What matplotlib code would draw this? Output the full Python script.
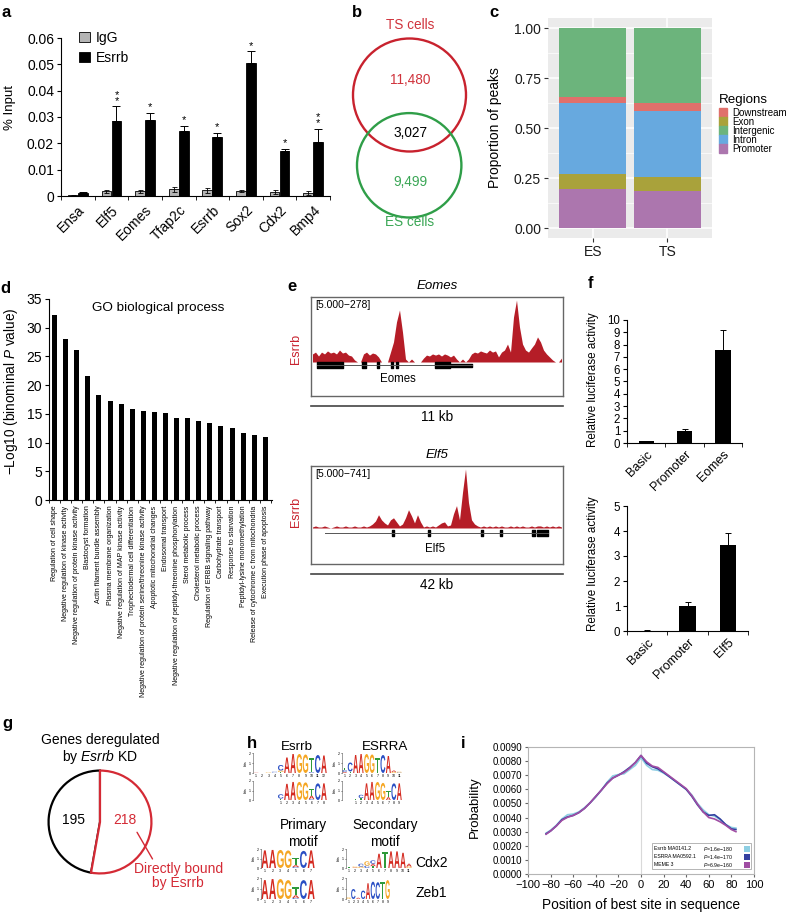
import numpy as np
import matplotlib
matplotlib.use("Agg")
import matplotlib.pyplot as plt
from matplotlib.patches import Circle, PathPatch, Rectangle
from matplotlib.lines import Line2D
from matplotlib.textpath import TextPath
from matplotlib.font_manager import FontProperties
from matplotlib.transforms import Affine2D

plt.rcParams["font.family"] = ["Liberation Sans", "DejaVu Sans"]
plt.rcParams["mathtext.fontset"] = "custom"
plt.rcParams["mathtext.rm"] = "Liberation Sans"
plt.rcParams["mathtext.it"] = "Liberation Sans:italic"
plt.rcParams["axes.linewidth"] = 0.8

# ---------------- data ----------------
# a: ChIP-qPCR
chip_genes = ["Ensa", "Elf5", "Eomes", "Tfap2c", "Esrrb", "Sox2", "Cdx2", "Bmp4"]
igg = [0.0003, 0.0018, 0.0018, 0.0025, 0.0022, 0.0020, 0.0015, 0.0012]
igg_err = [0.0002, 0.0006, 0.0005, 0.0009, 0.0009, 0.0004, 0.0006, 0.0008]
esrrb = [0.0012, 0.0285, 0.0290, 0.0247, 0.0225, 0.0505, 0.0172, 0.0205]
esrrb_err = [0.0003, 0.0055, 0.0027, 0.0020, 0.0015, 0.0045, 0.0008, 0.0050]
chip_stars = ["", "**", "*", "*", "*", "*", "*", "**"]

# b: peak overlap (TS only, both, ES only)
venn_sets = ["TS cells", "ES cells"]
venn_counts = [11480, 3027, 9499]

# c: genomic distribution of peaks
region_samples = ["ES", "TS"]
region_names = ["Downstream", "Exon", "Intergenic", "Intron", "Promoter"]
frac_promoter = [0.195, 0.184]
frac_exon = [0.076, 0.072]
frac_intron = [0.353, 0.331]
frac_downstream = [0.031, 0.037]
frac_intergenic = [0.345, 0.376]

# d: GO terms
go_terms = [
    "Regulation of cell shape",
    "Negative regulation of kinase activity",
    "Negative regulation of protein kinase activity",
    "Blastocyst formation",
    "Actin filament bundle assembly",
    "Plasma membrane organization",
    "Negative regulation of MAP kinase activity",
    "Trophectodermal cell differentiation",
    "Negative regulation of protein serine/threonine kinase activity",
    "Apoptotic mitochondrial changes",
    "Endosomal transport",
    "Negative regulation of peptidyl-threonine phosphorylation",
    "Sterol metabolic process",
    "Cholesterol metabolic process",
    "Regulation of ERBB signaling pathway",
    "Carbohydrate transport",
    "Response to starvation",
    "Peptidyl-lysine monomethylation",
    "Release of cytochrome c from mitochondria",
    "Execution phase of apoptosis",
]
go_scores = [32.3, 28.1, 26.1, 21.6, 18.2, 17.2, 16.7, 15.8, 15.5, 15.4,
             15.2, 14.2, 14.2, 13.7, 13.4, 12.9, 12.6, 11.6, 11.4, 10.9]

# e: Esrrb ChIP-seq coverage (reads per bin)
eomes_cov = [35, 43, 26, 43, 35, 48, 39, 43, 35, 52,
             39, 43, 30, 26, 9, 0, 0, 35, 43, 30,
             39, 35, 22, 0, 0, 0, 43, 87, 174, 226,
             130, 13, 0, 13, 0, 0, 0, 17, 30, 26,
             35, 30, 35, 26, 35, 30, 22, 30, 13, 0,
             13, 0, 13, 35, 43, 39, 48, 43, 39, 52,
             43, 48, 22, 43, 52, 78, 43, 195, 269, 152,
             78, 52, 43, 61, 78, 109, 87, 52, 35, 22,
             9, 0, 0, 17]
elf5_cov = [12, 25, 12, 12, 25, 12, 0, 12, 25, 12,
            12, 25, 12, 12, 25, 12, 12, 25, 12, 25,
            49, 86, 161, 99, 62, 37, 99, 124, 74, 25,
            49, 124, 222, 148, 62, 161, 74, 12, 25, 12,
            25, 12, 37, 62, 74, 25, 37, 173, 272, 99,
            432, 717, 309, 99, 49, 25, 12, 25, 12, 25,
            12, 25, 12, 25, 12, 12, 25, 12, 25, 12,
            25, 12, 12, 25, 12, 25, 25, 12, 25, 12,
            25, 12, 25, 12]
eomes_span = [2, 53.7]
eomes_cds = [(2, 8.7), (17, 1.2), (22, 0.8), (26.7, 0.7), (28.2, 0.7), (41.3, 5.0)]
eomes_utr = [(46.3, 7.4)]
elf5_span = [4.7, 79]
elf5_cds = [(27, 0.5), (39, 0.5), (56.7, 0.6), (63, 0.5), (73.7, 1.0), (75.3, 3.7)]
elf5_utr = []

# f: luciferase
luc_eomes_labels = ["Basic", "Promoter", "Eomes"]
luc_eomes = [0.15, 1.0, 7.6]
luc_eomes_err = [0.05, 0.15, 1.6]
luc_elf5_labels = ["Basic", "Promoter", "Elf5"]
luc_elf5 = [0.02, 1.0, 3.45]
luc_elf5_err = [0.01, 0.18, 0.47]

# g: KD genes (directly bound, not bound)
kd_counts = [218, 195]

# h: motif logos, columns of (letter, bits)
esrrb_logo_a = [[("A", 0.03)], [("T", 0.04)], [("G", 0.05)], [("C", 0.08), ("T", 0.05)],
                [("C", 0.55), ("G", 0.15), ("T", 0.1)], [("A", 1.55)], [("A", 1.9)],
                [("G", 1.9)], [("G", 1.85)], [("T", 1.45), ("C", 0.1)], [("C", 1.8)], [("A", 1.75)]]
esrrb_logo_b = [[("C", 0.45), ("T", 0.15)], [("A", 1.7)], [("A", 1.9)], [("G", 1.9)],
                [("G", 1.85)], [("T", 0.7), ("A", 0.35), ("C", 0.1)], [("C", 1.75)], [("A", 1.75)]]
esrra_logo_a = [[("T", 0.25), ("C", 0.2), ("A", 0.1)], [("C", 0.9), ("T", 0.15)], [("A", 1.8)],
                [("A", 1.9)], [("G", 1.9)], [("G", 1.85)], [("T", 1.5)], [("C", 1.8)],
                [("A", 1.7)], [("A", 0.15), ("G", 0.1)], [("G", 0.08), ("C", 0.05)]]
esrra_logo_b = [[("T", 0.1)], [("C", 0.35), ("T", 0.2)], [("A", 1.75)], [("A", 1.9)], [("G", 1.9)],
                [("G", 1.8)], [("T", 0.7), ("A", 0.3)], [("C", 1.75)], [("A", 1.75)]]
primary_logo_a = [[("A", 1.85)], [("A", 1.9)], [("G", 1.9)], [("G", 1.85)],
                  [("T", 0.8), ("A", 0.2), ("C", 0.1)], [("C", 1.8)], [("A", 1.85)]]
primary_logo_b = [[("A", 1.8)], [("A", 1.9)], [("G", 1.9)], [("G", 1.8)],
                  [("T", 0.75), ("A", 0.25), ("C", 0.1)], [("C", 1.8)], [("A", 1.8)]]
cdx2_logo = [[("T", 0.1)], [("G", 0.1), ("A", 0.05)], [("C", 0.3), ("G", 0.15)],
             [("G", 0.45), ("C", 0.25)], [("C", 0.35), ("A", 0.25), ("T", 0.2)], [("A", 1.5)],
             [("T", 1.7)], [("A", 1.75)], [("A", 1.75)], [("A", 1.6)], [("A", 0.3), ("G", 0.15)]]
zeb1_logo = [[("G", 0.15)], [("C", 0.95)], [("A", 0.12)], [("C", 0.8)], [("A", 1.5)],
             [("C", 1.65)], [("C", 1.6)], [("T", 1.65)], [("G", 1.8)]]

# i: centrimo site distribution
best_pos = [-84, -80, -75, -70, -65, -60, -55, -50, -45, -40, -35, -30, -25, -20, -15, -10, -5, 0,
            5, 10, 15, 20, 25, 30, 35, 40, 45, 50, 55, 60, 65, 70, 75, 80, 84]
prob_esrrb = [0.00290, 0.00310, 0.00345, 0.00390, 0.00420, 0.00425, 0.00440, 0.00470, 0.00505,
              0.00545, 0.00595, 0.00650, 0.00695, 0.00705, 0.00710, 0.00740, 0.00770, 0.00825,
              0.00770, 0.00740, 0.00735, 0.00715, 0.00690, 0.00660, 0.00630, 0.00600, 0.00560,
              0.00500, 0.00455, 0.00420, 0.00410, 0.00385, 0.00350, 0.00330, 0.00325]
prob_esrra = [0.00285, 0.00305, 0.00340, 0.00385, 0.00405, 0.00415, 0.00435, 0.00465, 0.00505,
              0.00550, 0.00595, 0.00645, 0.00680, 0.00700, 0.00725, 0.00755, 0.00790, 0.00840,
              0.00785, 0.00760, 0.00745, 0.00720, 0.00690, 0.00660, 0.00630, 0.00600, 0.00550,
              0.00490, 0.00440, 0.00415, 0.00420, 0.00390, 0.00350, 0.00320, 0.00315]
prob_meme = [0.00282, 0.00305, 0.00340, 0.00380, 0.00402, 0.00415, 0.00435, 0.00465, 0.00505,
             0.00550, 0.00595, 0.00640, 0.00680, 0.00700, 0.00720, 0.00750, 0.00790, 0.00840,
             0.00795, 0.00765, 0.00755, 0.00725, 0.00695, 0.00665, 0.00635, 0.00605, 0.00555,
             0.00495, 0.00440, 0.00400, 0.00390, 0.00370, 0.00345, 0.00315, 0.00300]
motif_names = ["Esrrb MA0141.2", "ESRRA MA0592.1", "MEME 3"]
motif_pvals = ["1.6e\u2212180", "1.4e\u2212170", "6.9e\u2212160"]

# ---------------- layout helpers (pixel coords, origin top-left) ----------------
W, H = 788, 913
fig = plt.figure(figsize=(W / 100, H / 100), dpi=100)


def box(x0, y0, x1, y1):
    return fig.add_axes([x0 / W, 1 - y1 / H, (x1 - x0) / W, (y1 - y0) / H])


def ftext(x, y, s, **kw):
    kw.setdefault("ha", "center")
    kw.setdefault("va", "center")
    return fig.text(x / W, 1 - y / H, s, **kw)


def fline(x0, x1, y, **kw):
    fig.add_artist(Line2D([x0 / W, x1 / W], [1 - y / H, 1 - y / H], **kw))


RED = "#c8222e"
GREEN = "#2f9e48"

for s, x, y in [("a", 2, 17), ("b", 352, 17), ("c", 489, 17), ("d", 0, 293), ("e", 287, 291),
                ("f", 588, 288), ("g", 2, 728), ("h", 247, 748), ("i", 461, 748)]:
    ftext(x, y, s, ha="left", va="baseline", fontsize=12, fontweight="bold")

# ---------------- a ----------------
ax = box(61, 38, 330, 196)
xa = np.arange(len(chip_genes))
ax.bar(xa - 0.15, igg, 0.29, color="#b4b4b4", edgecolor="black", linewidth=0.6, label="IgG")
ax.bar(xa + 0.15, esrrb, 0.29, color="black", edgecolor="black", linewidth=0.6, label="Esrrb")
ax.errorbar(xa - 0.15, igg, yerr=igg_err, fmt="none", ecolor="black", elinewidth=0.6,
            capsize=1.8, capthick=0.6)
ax.errorbar(xa + 0.15, esrrb, yerr=[np.zeros(len(esrrb)), esrrb_err], fmt="none",
            ecolor="black", elinewidth=0.7, capsize=2.8, capthick=0.7)
for xi, top, s in zip(xa + 0.15, np.add(esrrb, esrrb_err), chip_stars):
    if s:
        ax.annotate("\n".join(s), (xi, top), xytext=(0, 0.3), textcoords="offset points",
                    ha="center", va="bottom", fontsize=8, linespacing=0.55)
ax.set_xlim(-0.5, 7.5)
ax.set_ylim(0, 0.06)
ax.set_yticks(np.arange(7) * 0.01)
ax.set_yticklabels(["0", "0.01", "0.02", "0.03", "0.04", "0.05", "0.06"])
ax.set_xticks(xa)
ax.set_xticklabels(chip_genes, rotation=45, ha="right", rotation_mode="anchor")
ax.set_xticks(np.arange(-0.5, 8, 1), minor=True)
ax.tick_params(axis="x", which="major", length=0, pad=5, labelsize=10)
ax.tick_params(axis="x", which="minor", length=3, direction="out")
ax.tick_params(axis="y", length=3, pad=2, labelsize=10)
ax.spines[["top", "right"]].set_visible(False)
ax.legend(loc="upper left", bbox_to_anchor=(0.068, 1.046), frameon=False, fontsize=10,
          handlelength=0.8, handleheight=0.8, handletextpad=0.4, labelspacing=0.45,
          borderpad=0, borderaxespad=0)
ftext(10, 108, "% Input", rotation=90, fontsize=9.5)

# ---------------- b ----------------
axb = box(340, 10, 480, 235)
axb.set_xlim(340, 480)
axb.set_ylim(235, 10)
axb.axis("off")
axb.add_patch(Circle((409.5, 95), 56.5, fill=False, ec=RED, lw=1.7))
axb.add_patch(Circle((409.2, 165.3), 52.2, fill=False, ec=GREEN, lw=1.7))
axb.text(410, 25, venn_sets[0], color="#d0333c", ha="center", va="center", fontsize=9.8)
axb.text(410, 222, venn_sets[1], color="#3aa655", ha="center", va="center", fontsize=9.8)
axb.text(410, 80, f"{venn_counts[0]:,}", color="#d0333c", ha="center", va="center", fontsize=9.8)
axb.text(410, 133, f"{venn_counts[1]:,}", color="black", ha="center", va="center", fontsize=9.8)
axb.text(410, 182, f"{venn_counts[2]:,}", color="#3aa655", ha="center", va="center", fontsize=9.8)

# ---------------- c ----------------
axc = box(548, 18, 712, 238)
axc.set_facecolor("#ebebeb")
region_cols = {"Downstream": "#e0706b", "Exon": "#a9a23b", "Intergenic": "#6cb47c",
               "Intron": "#67a9df", "Promoter": "#ac76ae"}
xc = np.arange(1, len(region_samples) + 1)
bottom = np.zeros(len(region_samples))
for name, vals in [("Promoter", frac_promoter), ("Exon", frac_exon), ("Intron", frac_intron),
                   ("Downstream", frac_downstream), ("Intergenic", frac_intergenic)]:
    axc.bar(xc, vals, 0.9, bottom=bottom, color=region_cols[name], zorder=3)
    bottom += np.array(vals)
axc.set_xlim(0.4, 2.6)
axc.set_ylim(-0.05, 1.05)
axc.set_yticks([0, 0.25, 0.5, 0.75, 1.0])
axc.set_yticklabels(["0.00", "0.25", "0.50", "0.75", "1.00"])
axc.set_yticks([0.125, 0.375, 0.625, 0.875], minor=True)
axc.set_xticks(xc)
axc.set_xticklabels(region_samples)
axc.set_axisbelow(True)
axc.grid(True, which="major", color="white", lw=1.1)
axc.grid(True, which="minor", axis="y", color="white", lw=0.5)
for sp in axc.spines.values():
    sp.set_visible(False)
axc.tick_params(which="major", length=3, color="#333333", labelsize=10,
                labelcolor="#1a1a1a", pad=2)
axc.tick_params(which="minor", length=0)
ftext(495, 128, "Proportion of peaks", rotation=90, fontsize=10)
ftext(719, 100, "Regions", ha="left", fontsize=9.6)
for i, name in enumerate(region_names):
    yc = 113 + 9 * i
    fig.patches.append(Rectangle((719 / W, 1 - (yc + 4.5) / H), 8 / W, 9 / H,
                                 transform=fig.transFigure, color=region_cols[name]))
    ftext(732, yc, name, ha="left", fontsize=7)

# ---------------- d ----------------
axd = box(49, 299, 272, 500)
xd = np.arange(len(go_scores))
axd.bar(xd, go_scores, 0.45, color="black")
axd.set_xlim(-0.4, len(go_scores) - 0.4)
axd.set_ylim(0, 35)
axd.set_yticks(range(0, 36, 5))
axd.set_xticks(xd)
axd.set_xticklabels(go_terms, rotation=90, fontsize=5.0)
axd.set_xticks(np.arange(-0.5, len(go_scores), 1), minor=True)
axd.tick_params(axis="x", which="major", length=0, pad=4)
axd.tick_params(axis="x", which="minor", length=2.5)
axd.tick_params(axis="y", length=3, pad=2, labelsize=10)
axd.spines[["top", "right"]].set_visible(False)
axd.text(0.489, 0.955, "GO biological process", transform=axd.transAxes, ha="center",
         va="center", fontsize=9.7)
ftext(11, 391, "\u2212Log10 (binominal $\\mathit{P}$ value)", rotation=90, fontsize=9.8)


# ---------------- e ----------------
def draw_track(top, base, bottom_y, title, scale_txt, cov, cmax, span, cds, utr,
               gene_y, name, name_x, name_y, kb_y, kb_txt, lab_y):
    ftext(437, top - 11, title, fontsize=9.5, style="italic")
    frame = box(311, top, 563, bottom_y)
    frame.set_xticks([])
    frame.set_yticks([])
    for sp in frame.spines.values():
        sp.set_color("#666666")
        sp.set_linewidth(1.0)
    trk = box(311, top + 1, 563, base)
    bins = np.arange(len(cov)) + 0.5
    trk.fill_between(bins, cov, color="#b51d27", lw=0)
    trk.set_xlim(0, len(cov))
    trk.set_ylim(0, cmax)
    trk.axis("off")
    gax = box(311, gene_y - 6, 563, gene_y + 6)
    gax.plot(span, [0, 0], color="#555555", lw=0.7)
    gax.broken_barh(cds, (-0.45, 0.9), color="black")
    if utr:
        gax.broken_barh(utr, (-0.25, 0.5), color="black")
    gax.set_xlim(0, len(cov))
    gax.set_ylim(-1, 1)
    gax.axis("off")
    ftext(315, top + 8, scale_txt, ha="left", fontsize=7.5)
    ftext(name_x, name_y, name, fontsize=8.3)
    fline(311, 563, kb_y - 11, color="#444444", lw=1.2)
    ftext(437, kb_y, kb_txt, fontsize=9.8)
    ftext(296, lab_y, "Esrrb", rotation=90, color=RED, fontsize=9)


draw_track(297, 362, 396, "Eomes", "[5.000\u2212278]", eomes_cov, 278, eomes_span,
           eomes_cds, eomes_utr, 365, "Eomes", 398, 379, 417, "11 kb", 349)
draw_track(466, 528, 564, "Elf5", "[5.000\u2212741]", elf5_cov, 741, elf5_span,
           elf5_cds, elf5_utr, 533, "Elf5", 435, 549, 585, "42 kb", 512)


# ---------------- f ----------------
def luc_panel(coords, labels, vals, errs, ymax, step):
    axf = box(*coords)
    xf = np.arange(len(vals))
    axf.bar(xf, vals, 0.4, color="black")
    axf.errorbar(xf, vals, yerr=[np.zeros(len(vals)), errs], fmt="none", ecolor="black",
                 elinewidth=0.7, capsize=2.5, capthick=0.7)
    axf.set_xlim(-0.5, len(vals) - 0.5)
    axf.set_ylim(0, ymax)
    axf.set_yticks(np.arange(0, ymax + 0.1, step))
    axf.set_xticks(xf)
    axf.set_xticklabels(labels, rotation=45, ha="right", rotation_mode="anchor")
    axf.set_xticks(np.arange(-0.5, len(vals), 1), minor=True)
    axf.tick_params(axis="x", which="major", length=0, pad=4, labelsize=9)
    axf.tick_params(axis="x", which="minor", length=3)
    axf.tick_params(axis="y", length=3, pad=2, labelsize=8.3)
    axf.spines[["top", "right"]].set_visible(False)
    return axf


luc_panel((627, 320, 742, 443), luc_eomes_labels, luc_eomes, luc_eomes_err, 10, 1)
luc_panel((627, 506, 748, 631), luc_elf5_labels, luc_elf5, luc_elf5_err, 5, 1)
ftext(593, 380, "Relative luciferase activity", rotation=90, fontsize=8.4)
ftext(593, 564, "Relative luciferase activity", rotation=90, fontsize=8.4)

# ---------------- g ----------------
axg = box(46, 768, 154, 876)
wedges, _ = axg.pie(kd_counts, startangle=90, counterclock=False, colors=["white", "white"],
                    wedgeprops=dict(linewidth=1.6))
wedges[0].set_edgecolor("#d42a35")
wedges[0].set_zorder(3)
wedges[1].set_edgecolor("black")
wedges[1].set_zorder(2)
axg.set_xlim(-1.05, 1.05)
axg.set_ylim(-1.05, 1.05)
axg.text(0.48, 0.04, str(kd_counts[0]), color="#d42a35", ha="center", va="center", fontsize=10)
axg.text(-0.52, 0.04, str(kd_counts[1]), color="black", ha="center", va="center", fontsize=10)
axg.annotate("Directly bound\nby Esrrb", xy=(0.72, -0.2), xytext=(1.52, -1.05),
             ha="center", va="center", color="#d42a35", fontsize=10, linespacing=1.05,
             annotation_clip=False,
             arrowprops=dict(arrowstyle="-", color="#d42a35", lw=1.0, relpos=(0.23, 1.0),
                             shrinkA=0, shrinkB=0))
ftext(100, 740, "Genes deregulated", fontsize=10)
ftext(100, 757, "by $\\mathit{Esrrb}$ KD", fontsize=10)

# ---------------- h ----------------
logo_colors = {"A": "#d42a20", "C": "#2a4fc4", "G": "#f5a623", "T": "#2f9a3a"}
logo_font = FontProperties(family="Liberation Sans", weight="bold")


def draw_logo(cols, x0, x1, ytop, ybase, lead):
    axh = box(x0, ytop, x1, ybase)
    for i, col in enumerate(cols):
        y = 0.0
        for letter, h in sorted(col, key=lambda c: c[1]):
            tp = TextPath((0, 0), letter, size=1, prop=logo_font)
            bb = tp.get_extents()
            tr = (Affine2D().translate(-bb.x0, -bb.y0)
                  .scale(0.9 / bb.width, h / bb.height)
                  .translate(i + 0.05, y))
            axh.add_patch(PathPatch(tr.transform_path(tp), fc=logo_colors[letter], ec="none"))
            y += h
    axh.set_xlim(-lead, len(cols))
    axh.set_ylim(0, 2)
    axh.set_xticks(np.arange(len(cols)) + 0.5)
    axh.set_xticklabels([str(k + 1) for k in range(len(cols))])
    axh.set_yticks([0, 1, 2])
    axh.tick_params(axis="x", length=0, pad=0.6, labelsize=2.6)
    axh.tick_params(axis="y", length=1, width=0.4, pad=0.5, labelsize=2.6)
    axh.set_ylabel("bits", fontsize=2.6, labelpad=0.5)
    axh.spines[["top", "right", "bottom"]].set_visible(False)
    axh.spines["left"].set_linewidth(0.4)
    axh.spines["left"].set_color("#555555")
    axh.patch.set_alpha(0)


draw_logo(esrrb_logo_a, 253, 327, 753, 773, 0)
draw_logo(esrrb_logo_b, 253, 327, 781, 800, 4)
draw_logo(esrra_logo_a, 342, 402, 753, 773, 0)
draw_logo(esrra_logo_b, 342, 402, 781, 800, 2)
draw_logo(primary_logo_a, 261, 315, 849, 868, 0)
draw_logo(primary_logo_b, 261, 315, 878, 899, 0)
draw_logo(cdx2_logo, 346, 412, 849, 868, 0)
draw_logo(zeb1_logo, 346, 390, 878, 899, 0)
ftext(297, 747, "Esrrb", fontsize=9.6)
ftext(385, 747, "ESRRA", fontsize=9.6)
ftext(303, 825, "Primary", fontsize=9.8)
ftext(303, 842, "motif", fontsize=9.8)
ftext(385, 825, "Secondary", fontsize=9.8)
ftext(385, 842, "motif", fontsize=9.8)
ftext(415, 863, "Cdx2", ha="left", fontsize=10)
ftext(415, 893, "Zeb1", ha="left", fontsize=10)

# ---------------- i ----------------
axi = box(528, 747, 754, 874)
axi.axvline(0, color="#d9d9d9", lw=0.8, zorder=1)
axi.plot(best_pos, prob_esrrb, color="#8ecfe3", lw=1.2)
axi.plot(best_pos, prob_esrra, color="#3440a0", lw=1.2)
axi.plot(best_pos, prob_meme, color="#a04da3", lw=1.2)
axi.set_xlim(-100, 100)
axi.set_ylim(0, 0.009)
axi.set_xticks(range(-100, 101, 20))
axi.set_yticks(np.arange(10) * 0.001)
axi.set_yticklabels([f"{v:.4f}" for v in np.arange(10) * 0.001])
axi.tick_params(axis="y", length=2, pad=2, labelsize=7, color="#666666")
axi.tick_params(axis="x", length=2, pad=2, labelsize=8, color="#666666")
for sp in axi.spines.values():
    sp.set_color("#b5b5b5")
    sp.set_linewidth(0.8)
axi.add_patch(Rectangle((0.549, 0.039), 0.438, 0.205, transform=axi.transAxes,
                        fill=True, fc="white", ec="#999999", lw=0.5, zorder=4))
leg_cols = ["#8ecfe3", "#3440a0", "#a04da3"]
for k, (nm, pv, col) in enumerate(zip(motif_names, motif_pvals, leg_cols)):
    yy = 0.197 - 0.063 * k
    axi.text(0.556, yy, nm, transform=axi.transAxes, fontsize=3.7, va="center", zorder=5)
    axi.text(0.775, yy, "$\\mathit{P}$=" + pv, transform=axi.transAxes, fontsize=3.7,
             va="center", zorder=5)
    axi.add_patch(Rectangle((0.955, yy - 0.024), 0.027, 0.048, transform=axi.transAxes,
                            fc=col, ec="none", zorder=5))
ftext(641, 905, "Position of best site in sequence", fontsize=9.9)
ftext(475, 807, "Probability", rotation=90, fontsize=9.5)

fig.savefig("out.png", dpi=100)
